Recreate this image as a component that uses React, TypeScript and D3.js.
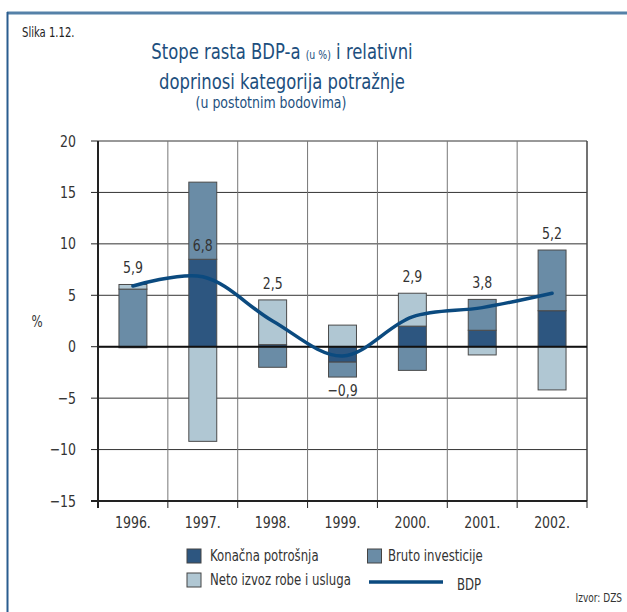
import React from "react";
import * as d3 from "d3";

const years = ["1996.", "1997.", "1998.", "1999.", "2000.", "2001.", "2002."];
const konacnaPotrosnja = [-0.1, 8.5, 0.2, -1.5, 2.0, 1.6, 3.5];
const brutoInvesticije = [5.6, 7.5, -2.0, -1.45, -2.3, 3.0, 5.9];
const netoIzvoz = [0.45, -9.2, 4.35, 2.1, 3.2, -0.8, -4.2];
const bdp = [5.9, 6.8, 2.5, -0.9, 2.9, 3.8, 5.2];
const bdpLabels = ["5,9", "6,8", "2,5", "\u22120,9", "2,9", "3,8", "5,2"];
const yTicks = [20, 15, 10, 5, 0, -5, -10, -15];
const yTickLabels = ["20", "15", "10", "5", "0", "\u22125", "\u221210", "\u221215"];
const seriesKeys = ["konacna", "bruto", "neto"];
const seriesNames = ["Konačna potrošnja", "Bruto investicije", "Neto izvoz robe i usluga"];

const W = 627;
const H = 612;
const FONT = "'DejaVu Sans Condensed', 'Liberation Sans', Arial, sans-serif";
const SX = 0.87;
const colors: Record<string, string> = {
  konacna: "#2d5680",
  bruto: "#6a8ca6",
  neto: "#b0c7d3",
};

function T(props: {
  x: number;
  y: number;
  size: number;
  anchor?: string;
  fill?: string;
  sx?: number;
  children: React.ReactNode;
}) {
  const { x, y, size, anchor = "start", fill = "#333", sx = SX, children } = props;
  return (
    <text
      transform={`translate(${x},${y}) scale(${sx},1)`}
      textAnchor={anchor}
      fontSize={size}
      fill={fill}
    >
      {children}
    </text>
  );
}

export default function App() {
  const plotL = 98;
  const plotR = 587;
  const plotT = 141;
  const plotB = 501;

  const x = d3.scaleBand<string>().domain(years).range([plotL, plotR]).paddingInner(0).paddingOuter(0);
  const y = d3.scaleLinear().domain([-15, 20]).range([plotB, plotT]);
  const barW = x.bandwidth() * 0.4;

  const rows = years.map((yr, i) => ({
    year: yr,
    konacna: konacnaPotrosnja[i],
    bruto: brutoInvesticije[i],
    neto: netoIzvoz[i],
  }));
  const stacked = d3
    .stack<any>()
    .keys(seriesKeys)
    .offset(d3.stackOffsetDiverging)(rows);

  const cx = (i: number) => (x(years[i]) as number) + x.bandwidth() / 2;

  const line = d3
    .line<number>()
    .x((_, i) => cx(i))
    .y((v) => y(v))
    .curve(d3.curveCatmullRom.alpha(0.5));

  // label anchor: above positive stack top, below negative stack bottom;
  // for very tall stacks, above the first segment
  const labelPos = years.map((_, i) => {
    let top = 0;
    let bottom = 0;
    stacked.forEach((s) => {
      top = Math.max(top, s[i][1], s[i][0]);
      bottom = Math.min(bottom, s[i][0], s[i][1]);
    });
    if (bdp[i] < 0) return y(bottom) + 19;
    if (top > 12) return y(stacked[0][i][1]) - 8;
    return y(top) - 11;
  });

  return (
    <svg
      width={W}
      height={H}
      viewBox={`0 0 ${W} ${H}`}
      style={{ position: "absolute", left: 0, top: 0, background: "#fff" }}
      fontFamily={FONT}
    >
      <rect x={0} y={0} width={W} height={H} fill="#fff" />
      {/* frame */}
      <line x1={7} x2={W} y1={13} y2={13} stroke="#5581a8" strokeWidth={3} />
      <line x1={7.5} x2={7.5} y1={12} y2={H} stroke="#2a5d8f" strokeWidth={2} />

      {/* titles */}
      <T x={22} y={37} size={14} sx={0.8} fill="#222">Slika 1.12.</T>
      <T x={282} y={59} size={21} anchor="middle" fill="#1d4f7e">
        Stope rasta BDP-a <tspan fontSize={12}>(u %)</tspan> i relativni
      </T>
      <T x={282} y={89} size={21} anchor="middle" fill="#1d4f7e">
        doprinosi kategorija potražnje
      </T>
      <T x={271} y={108} size={16} anchor="middle" fill="#1d4f7e">
        (u postotnim bodovima)
      </T>

      {/* gridlines */}
      {yTicks.map((t) => (
        <line key={"h" + t} x1={plotL} x2={plotR} y1={y(t)} y2={y(t)} stroke="#333" strokeWidth={1} />
      ))}
      {years.map((yr, i) =>
        i === 0 ? null : (
          <line key={"v" + yr} x1={x(yr)} x2={x(yr)} y1={plotT} y2={plotB} stroke="#777" strokeWidth={1} />
        )
      )}
      <line x1={plotR} x2={plotR} y1={plotT} y2={plotB} stroke="#444" strokeWidth={1.5} />

      {/* bars */}
      {stacked.map((s) => (
        <g key={s.key}>
          {s.map((d, i) => {
            const y0 = y(Math.max(d[0], d[1]));
            const y1 = y(Math.min(d[0], d[1]));
            return (
              <rect
                key={i}
                x={cx(i) - barW / 2}
                y={y0}
                width={barW}
                height={Math.max(0, y1 - y0)}
                fill={colors[s.key]}
                stroke="#4a4a4a"
                strokeWidth={1}
              />
            );
          })}
        </g>
      ))}

      {/* zero line */}
      <line x1={plotL} x2={plotR} y1={y(0)} y2={y(0)} stroke="#111" strokeWidth={2} />

      {/* BDP line */}
      <path d={line(bdp) || ""} fill="none" stroke="#0b4a7f" strokeWidth={3.5} strokeLinecap="round" />

      {/* data labels */}
      {bdpLabels.map((lab, i) => (
        <T key={"l" + i} x={cx(i)} y={labelPos[i]} size={16} anchor="middle">
          {lab}
        </T>
      ))}

      {/* axes */}
      <line x1={plotL} x2={plotL} y1={plotT} y2={plotB + 7} stroke="#222" strokeWidth={2} />
      <line x1={plotL - 7} x2={plotR} y1={plotB} y2={plotB} stroke="#222" strokeWidth={2} />
      {yTicks.map((t, i) => (
        <g key={"yt" + t}>
          <line x1={plotL - 7} x2={plotL} y1={y(t)} y2={y(t)} stroke="#222" strokeWidth={1} />
          <T x={76} y={y(t) + 5.5} size={16} anchor="end">
            {yTickLabels[i]}
          </T>
        </g>
      ))}
      {years.map((yr) => (
        <line key={"xt" + yr} x1={x(yr)} x2={x(yr)} y1={plotB} y2={plotB + 7} stroke="#222" strokeWidth={1} />
      ))}
      <line x1={plotR} x2={plotR} y1={plotB} y2={plotB + 7} stroke="#222" strokeWidth={1} />
      {years.map((yr, i) => (
        <T key={"xl" + yr} x={cx(i)} y={528} size={16} anchor="middle">
          {yr}
        </T>
      ))}
      <T x={37} y={327} size={15} anchor="middle">%</T>

      {/* legend */}
      <rect x={187} y={549} width={14} height={14} fill={colors.konacna} stroke="#444" />
      <T x={210} y={561} size={15}>{seriesNames[0]}</T>
      <rect x={367.5} y={549} width={14} height={14} fill={colors.bruto} stroke="#444" />
      <T x={388} y={561} size={15}>{seriesNames[1]}</T>
      <rect x={187} y={573} width={14} height={14} fill={colors.neto} stroke="#444" />
      <T x={210} y={585} size={15}>{seriesNames[2]}</T>
      <line x1={369} x2={443} y1={582} y2={582} stroke="#0b4a7f" strokeWidth={3.5} />
      <T x={457} y={590} size={15}>BDP</T>

      <T x={622} y={602} size={11.5} anchor="end">Izvor: DZS</T>
    </svg>
  );
}
